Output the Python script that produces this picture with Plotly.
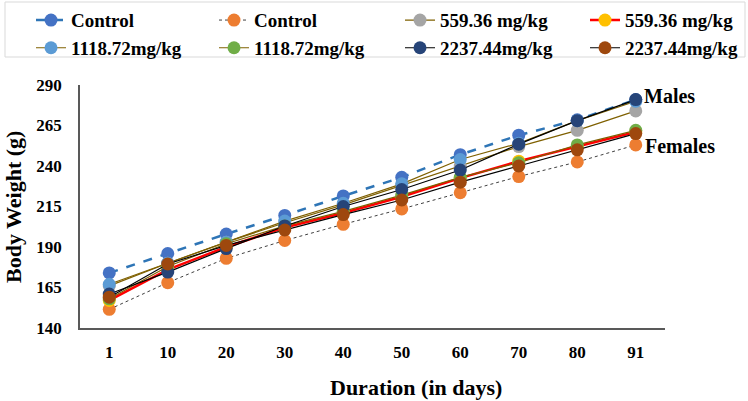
import plotly.graph_objects as go

days = ["1", "10", "20", "30", "40", "50", "60", "70", "80", "91"]

control_m = [174, 186, 198, 209.5, 221.5, 233, 247, 259, 268.5, 281]
control_f = [151.5, 168, 183, 194, 204, 213.5, 223.5, 233.5, 242.5, 253]
dose559_m = [166, 180, 193, 205, 216, 228, 240, 252, 262, 274]
dose559_f = [157, 176, 190, 202, 211, 221, 232.5, 243, 252, 261]
dose1118_m = [167, 180, 193, 206, 217, 229, 244, 254, 268, 280]
dose1118_f = [158, 178, 192, 203, 212, 222, 233, 242, 253, 262]
dose2237_m = [161, 174.5, 189, 203, 215, 225.5, 237.5, 253.5, 268, 281]
dose2237_f = [159, 179.5, 191, 200.5, 210, 219, 230, 240, 250, 260]

# name, values, line colour, dash, line width, marker colour, legend column
series = [
    ("Control", control_m, "#2E75B6", "dash", 2.5, "#4472C4", "legend"),
    ("Control", control_f, "#404040", "dot", 1, "#ED7D31", "legend2"),
    ("559.36 mg/kg", dose559_m, "#7F6000", "solid", 1.2, "#A5A5A5", "legend3"),
    ("559.36 mg/kg", dose559_f, "#FF0000", "solid", 2.5, "#FFC000", "legend4"),
    ("1118.72mg/kg", dose1118_m, "#7F6000", "solid", 1.2, "#5B9BD5", "legend"),
    ("1118.72mg/kg", dose1118_f, "#7F6000", "solid", 1.2, "#70AD47", "legend2"),
    ("2237.44mg/kg", dose2237_m, "#000000", "solid", 1.2, "#264478", "legend3"),
    ("2237.44mg/kg", dose2237_f, "#000000", "solid", 1.2, "#9E480E", "legend4"),
]

FONT = "Liberation Serif"
W, H = 748, 401
L, R, T, B = 80, 83, 85, 73
PW, PH = W - L - R, H - T - B


def px(x):
    return (x - L) / PW


def py(y):
    return (H - B - y) / PH


fig = go.Figure()
for name, vals, lc, dash, lw, mc, lg in series:
    fig.add_trace(go.Scatter(
        x=days, y=vals, name=name, mode="lines+markers",
        line=dict(color=lc, dash=dash, width=lw),
        marker=dict(color=mc, size=13),
        legend=lg,
    ))

legend_font = dict(family=FONT, size=19, color="black", weight="bold")


def leg(x):
    return dict(
        orientation="v", x=x / W, y=0.997, xref="container", yref="container",
        xanchor="left", yanchor="top", bgcolor="rgba(0,0,0,0)",
        font=legend_font, borderwidth=0, itemwidth=30, tracegroupgap=0,
    )


fig.update_layout(
    width=W, height=H,
    margin=dict(l=L, r=R, t=T, b=B, autoexpand=False),
    plot_bgcolor="white", paper_bgcolor="white",
    font=dict(family=FONT, color="black"),
    showlegend=True,
    legend=leg(31), legend2=leg(214), legend3=leg(400), legend4=leg(585),
    xaxis=dict(
        type="category", range=[-0.5, 9.5], automargin=False,
        showline=True, linecolor="#595959", linewidth=1.5,
        showgrid=False, ticks="",
        tickfont=dict(family=FONT, size=17, color="black", weight="bold"),
        ticklabelstandoff=8,
    ),
    yaxis=dict(
        range=[140, 290], tick0=140, dtick=25, automargin=False,
        showline=True, linecolor="#595959", linewidth=1.5,
        showgrid=False, ticks="",
        tickfont=dict(family=FONT, size=17, color="black", weight="bold"),
        ticklabelstandoff=13,
    ),
    shapes=[
        dict(type="rect", xref="paper", yref="paper",
             x0=px(5), x1=px(745), y0=py(57), y1=py(2),
             line=dict(color="#D9D9D9", width=1), fillcolor="rgba(0,0,0,0)"),
    ],
    annotations=[
        dict(text="Body Weight (g)", xref="paper", yref="paper", textangle=-90,
             x=px(13), y=py(207), xanchor="center", yanchor="middle", showarrow=False,
             font=dict(family=FONT, size=22, color="black", weight="bold")),
        dict(text="Duration (in days)", xref="paper", yref="paper",
             x=px(416), y=py(387), xanchor="center", yanchor="middle", showarrow=False,
             font=dict(family=FONT, size=22, color="black", weight="bold")),
        dict(text="Males", xref="paper", yref="paper",
             x=px(642), y=py(96), xanchor="left", yanchor="middle", showarrow=False,
             font=dict(family=FONT, size=20, color="black", weight="bold")),
        dict(text="Females", xref="paper", yref="paper",
             x=px(643), y=py(146), xanchor="left", yanchor="middle", showarrow=False,
             font=dict(family=FONT, size=20, color="black", weight="bold")),
    ],
)

fig.write_html("out.html", config={"displayModeBar": False},
               post_script="document.body.style.margin='0';")
